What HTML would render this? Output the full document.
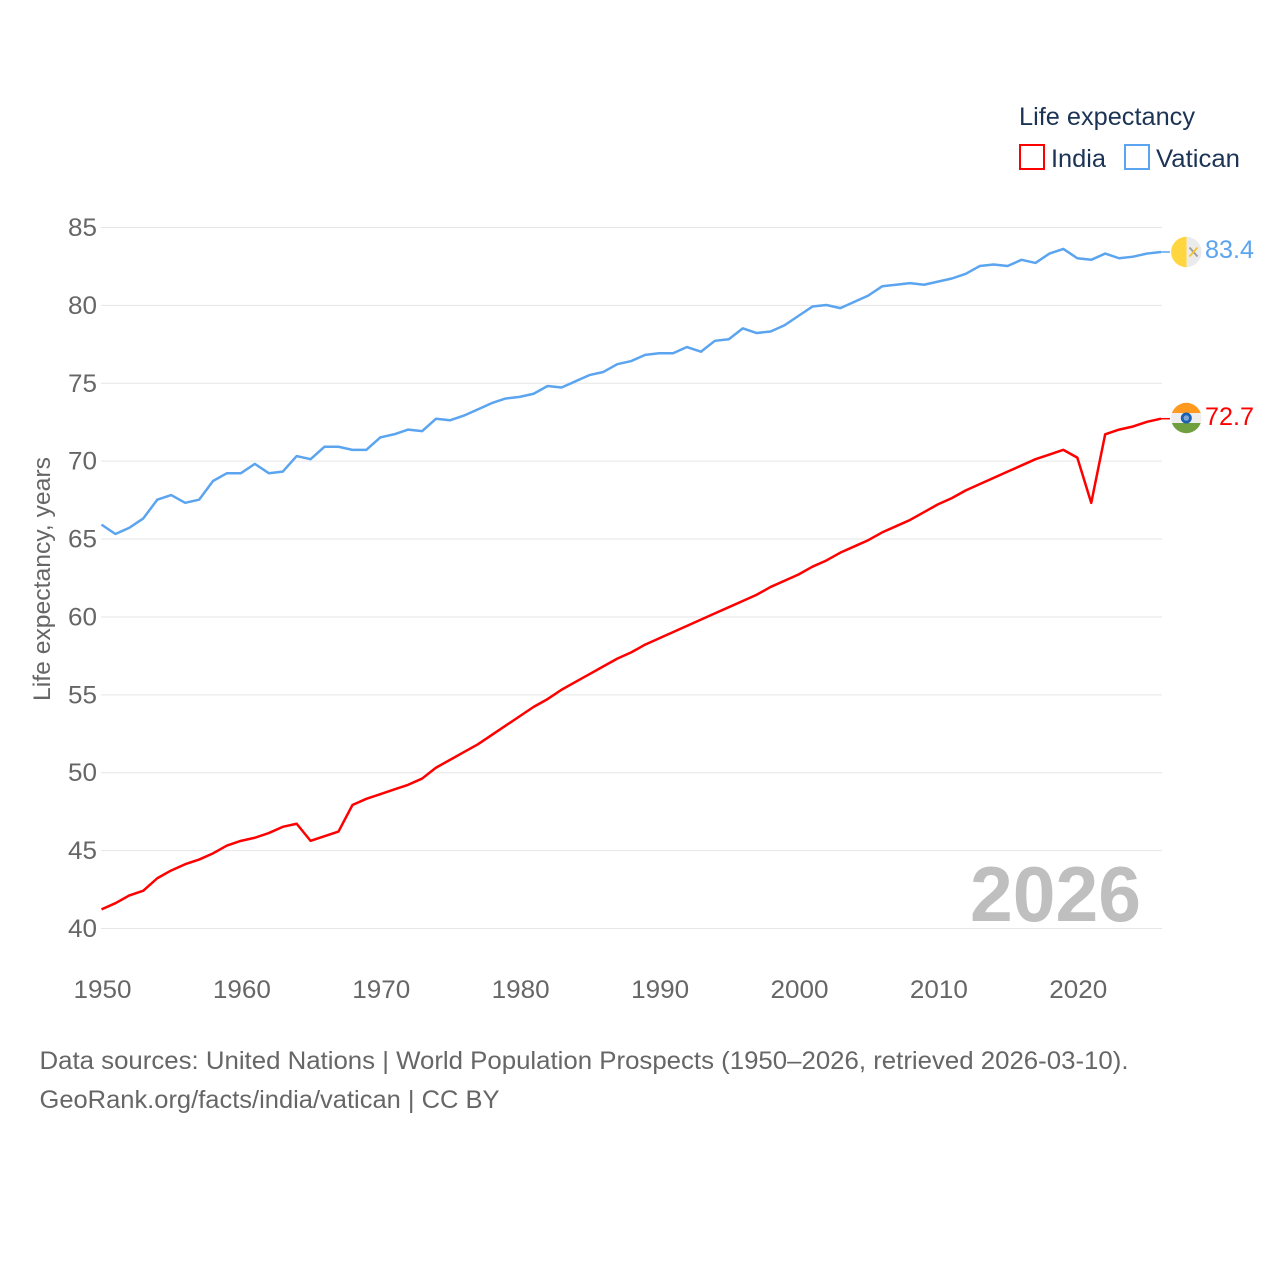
<!DOCTYPE html>
<html lang="en">
<head>
<meta charset="utf-8">
<title>Life expectancy: India and Vatican</title>
<style>
html,body{margin:0;padding:0;background:#fff;}
svg{display:block;font-family:"Liberation Sans",sans-serif;}
</style>
</head>
<body>
<svg id="chart" xmlns="http://www.w3.org/2000/svg" width="1280" height="1280" viewBox="0 0 1280 1280">
  <rect width="1280" height="1280" fill="#ffffff"/>
  <g id="grid"></g>
  <g id="yticks"></g>
  <g id="xticks"></g>
  <text transform="translate(50,701) rotate(-90)" font-size="24" fill="#666666" textLength="244" lengthAdjust="spacingAndGlyphs">Life expectancy, years</text>
  <text x="1141" y="921" text-anchor="end" font-size="78" font-weight="700" fill="#bfbfbf" textLength="171" lengthAdjust="spacingAndGlyphs">2026</text>
  <g id="series"></g>

  <g>
    <text x="1019" y="125" font-size="25" fill="#1b3354" textLength="176" lengthAdjust="spacingAndGlyphs">Life expectancy</text>
    <rect x="1020" y="145" width="24" height="24" fill="none" stroke="#ff0000" stroke-width="2"/>
    <text x="1051" y="167" font-size="25" fill="#1b3354" textLength="55" lengthAdjust="spacingAndGlyphs">India</text>
    <rect x="1125" y="145" width="24" height="24" fill="none" stroke="#5ba4ef" stroke-width="2"/>
    <text x="1156" y="167" font-size="25" fill="#1b3354" textLength="84" lengthAdjust="spacingAndGlyphs">Vatican</text>
  </g>

  <defs>
    <clipPath id="clip-v"><circle cx="1186.300" cy="252" r="15.200"/></clipPath>
    <clipPath id="clip-i"><circle cx="1186.300" cy="418" r="15.200"/></clipPath>
  </defs>
  <g clip-path="url(#clip-v)">
    <rect x="1171" y="236" width="15.700" height="32" fill="#ffd640"/>
    <rect x="1186.700" y="236" width="15" height="32" fill="#ebebeb"/>
    <path d="M1189.500 247.500 L1197.500 256.500" stroke="#9a9a9a" stroke-width="1.800" fill="none"/>
    <path d="M1197.500 247.500 L1189.500 256.500" stroke="#f2c431" stroke-width="1.800" fill="none"/>
  </g>
  <g clip-path="url(#clip-i)">
    <rect x="1171" y="402" width="31" height="11" fill="#ff9a1e"/>
    <rect x="1171" y="413" width="31" height="10" fill="#eeeeee"/>
    <rect x="1171" y="423" width="31" height="11" fill="#6f9f3e"/>
    <circle cx="1186.300" cy="418" r="5.500" fill="#1a5fb0"/>
    <circle cx="1186.300" cy="418" r="2.800" fill="#7ea5d6"/>
  </g>
  <text x="1205" y="258" font-size="25" fill="#5ba4ef" textLength="49" lengthAdjust="spacingAndGlyphs">83.4</text>
  <text x="1205" y="425" font-size="25" fill="#ff0000" textLength="49" lengthAdjust="spacingAndGlyphs">72.7</text>

  <g>
    <text x="39.500" y="1069" font-size="25" fill="#666666" textLength="1089" lengthAdjust="spacingAndGlyphs">Data sources: United Nations | World Population Prospects (1950–2026, retrieved 2026-03-10).</text>
    <text x="39.500" y="1108" font-size="25" fill="#666666" textLength="460" lengthAdjust="spacingAndGlyphs">GeoRank.org/facts/india/vatican | CC BY</text>
  </g>
</svg>
<script>
const startYear = 1950;
const yTickValues = [40, 45, 50, 55, 60, 65, 70, 75, 80, 85];
const xTickValues = [1950, 1960, 1970, 1980, 1990, 2000, 2010, 2020];
const indiaValues = [41.2,41.6,42.1,42.4,43.2,43.7,44.1,44.4,44.8,45.3,
  45.6,45.8,46.1,46.5,46.7,45.6,45.9,46.2,47.9,48.3,
  48.6,48.9,49.2,49.6,50.3,50.8,51.3,51.8,52.4,53.0,
  53.6,54.2,54.7,55.3,55.8,56.3,56.8,57.3,57.7,58.2,
  58.6,59.0,59.4,59.8,60.2,60.6,61.0,61.4,61.9,62.3,
  62.7,63.2,63.6,64.1,64.5,64.9,65.4,65.8,66.2,66.7,
  67.2,67.6,68.1,68.5,68.9,69.3,69.7,70.1,70.4,70.7,
  70.2,67.3,71.7,72.0,72.2,72.5,72.7];
const vaticanValues = [65.9,65.3,65.7,66.3,67.5,67.8,67.3,67.5,68.7,69.2,
  69.2,69.8,69.2,69.3,70.3,70.1,70.9,70.9,70.7,70.7,
  71.5,71.7,72.0,71.9,72.7,72.6,72.9,73.3,73.7,74.0,
  74.1,74.3,74.8,74.7,75.1,75.5,75.7,76.2,76.4,76.8,
  76.9,76.9,77.3,77.0,77.7,77.8,78.5,78.2,78.3,78.7,
  79.3,79.9,80.0,79.8,80.2,80.6,81.2,81.3,81.4,81.3,
  81.5,81.7,82.0,82.5,82.6,82.5,82.9,82.7,83.3,83.6,
  83.0,82.9,83.3,83.0,83.1,83.3,83.4];

const NS = 'http://www.w3.org/2000/svg';
const xScale = function (year) { return 101.5 + (year - 1950) * 13.94; };
const yScale = function (value) { return 928.1 - (value - 40) * 15.578; };
const plotRight = 1161.500;

const gridGroup = document.getElementById('grid');
const yTickGroup = document.getElementById('yticks');
const xTickGroup = document.getElementById('xticks');
const seriesGroup = document.getElementById('series');

yTickValues.forEach(function (value) {
  const gridY = yScale(value) + 0.4;
  const line = document.createElementNS(NS, 'line');
  
  
  line.setAttribute('x1', 101);
  line.setAttribute('x2', 1162);
  line.setAttribute('y1', gridY);
  line.setAttribute('y2', gridY);
  line.setAttribute('stroke', '#e6e6e6');
  line.setAttribute('stroke-width', 1);
  gridGroup.appendChild(line);

  const label = document.createElementNS(NS, 'text');
  
  
  label.setAttribute('x', 97);
  label.setAttribute('y', gridY + 8.5);
  label.setAttribute('text-anchor', 'end');
  label.setAttribute('font-size', 25);
  label.setAttribute('fill', '#666666');
  label.setAttribute('textLength', 29);
  label.setAttribute('lengthAdjust', 'spacingAndGlyphs');
  label.textContent = String(value);
  yTickGroup.appendChild(label);
});

xTickValues.forEach(function (year) {
  const label = document.createElementNS(NS, 'text');
  
  
  label.setAttribute('x', xScale(year) + 1);
  label.setAttribute('y', 998);
  label.setAttribute('text-anchor', 'middle');
  label.setAttribute('font-size', 25);
  label.setAttribute('fill', '#666666');
  label.setAttribute('textLength', 58);
  label.setAttribute('lengthAdjust', 'spacingAndGlyphs');
  label.textContent = String(year);
  xTickGroup.appendChild(label);
});

function pathFor(values) {
  return values.map(function (value, i) {
    return (i === 0 ? 'M' : 'L') + xScale(startYear + i).toFixed(2) + ' ' + yScale(value).toFixed(2);
  }).join(' ');
}

function drawSeries(name, values, color) {
  const path = document.createElementNS(NS, 'path');
  
  
  path.setAttribute('d', pathFor(values));
  path.setAttribute('fill', 'none');
  path.setAttribute('stroke', color);
  path.setAttribute('stroke-width', 2.5);
  path.setAttribute('stroke-linejoin', 'round');
  seriesGroup.appendChild(path);

  const endY = yScale(values[values.length - 1]);
  const connector = document.createElementNS(NS, 'line');
  
  
  connector.setAttribute('x1', plotRight - 1);
  connector.setAttribute('x2', 1170);
  connector.setAttribute('y1', endY);
  connector.setAttribute('y2', endY);
  connector.setAttribute('stroke', color);
  connector.setAttribute('stroke-width', 1.5);
  seriesGroup.appendChild(connector);
}

drawSeries('india', indiaValues, '#ff0000');
drawSeries('vatican', vaticanValues, '#5ba4ef');
</script>
</body>
</html>
